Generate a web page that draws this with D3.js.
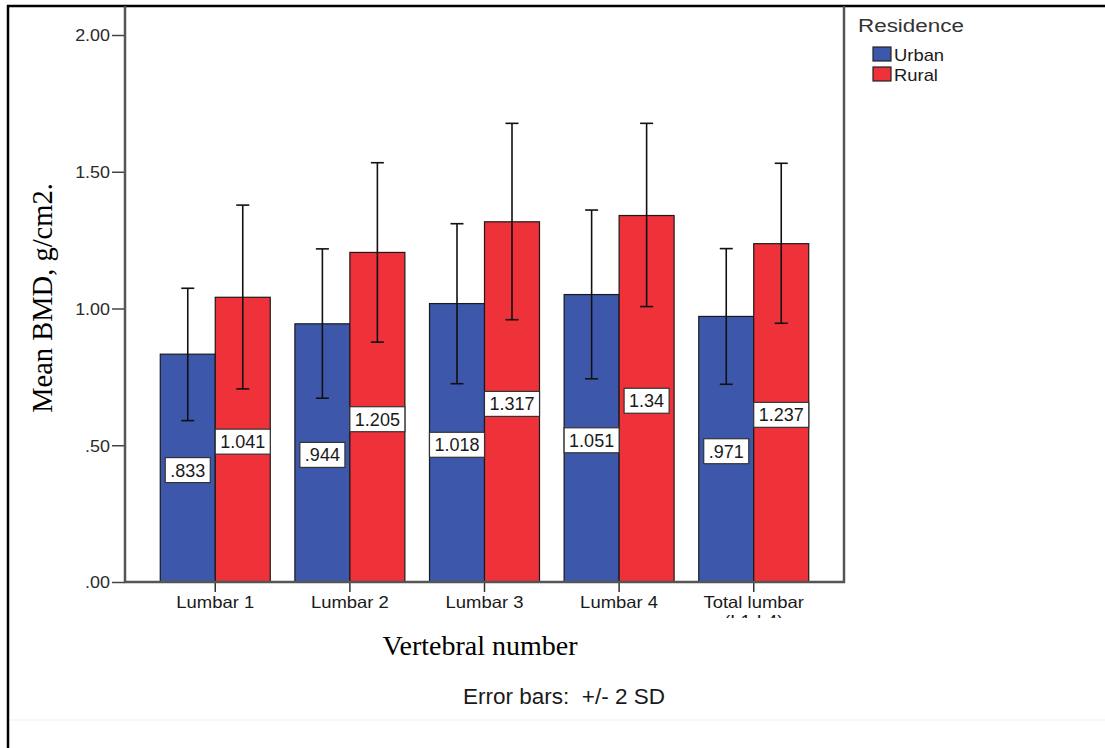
<!DOCTYPE html>
<html>
<head>
<meta charset="utf-8">
<script src="https://cdn.jsdelivr.net/npm/d3@7"></script>
<style>
  body { margin: 0; background: #fff; }
  text { font-family: "Liberation Sans", Arial, sans-serif; }
</style>
</head>
<body>
<div id="chart"></div>
<script>
// data
const categories = ["Lumbar 1", "Lumbar 2", "Lumbar 3", "Lumbar 4", "Total lumbar\n(L1-L4)"];
const groups = ["Urban", "Rural"];
const urbanMean = [0.833, 0.944, 1.018, 1.051, 0.971];
const ruralMean = [1.041, 1.205, 1.317, 1.34, 1.237];
// error bars (+/- 2 SD), lower and upper ends
const urbanLow = [0.590, 0.672, 0.725, 0.743, 0.723];
const urbanHigh = [1.074, 1.218, 1.310, 1.360, 1.219];
const ruralLow = [0.706, 0.877, 0.959, 1.007, 0.946];
const ruralHigh = [1.378, 1.533, 1.677, 1.677, 1.531];
const yTicks = [0, 0.5, 1, 1.5, 2];

const width = 1105;
const height = 748;
const plot = {left: 125, right: 844, top: 6, bottom: 582};

const colour = d3.scaleOrdinal().domain(groups).range(["#3d58ab", "#ef3139"]);

// SPSS style numbers: no leading zero
const spss = v => String(v).replace(/^0/, '');
const tickFmt = v => d3.format(".2f")(v).replace(/^0/, '');

const svg = d3.select('#chart')
    .append('svg')
    .attr('width', width)
    .attr('height', height);

// outer frame
svg.append('line').attr('x1', 8).attr('x2', 8).attr('y1', 5).attr('y2', height)
    .attr('stroke', '#000').attr('stroke-width', 2.5);
svg.append('line').attr('x1', 7).attr('x2', width).attr('y1', 6).attr('y2', 6)
    .attr('stroke', '#000').attr('stroke-width', 2.5);
svg.append('line').attr('x1', 10).attr('x2', width).attr('y1', 720).attr('y2', 720)
    .attr('stroke', '#f0f0f0').attr('stroke-width', 1);

const y = d3.scaleLinear().domain([0, 2]).range([plot.bottom, 35]);
const x0 = d3.scaleBand().domain(categories).range([plot.left, plot.right])
    .paddingInner(0.183).paddingOuter(0.262);
const x1 = d3.scaleBand().domain(groups).range([0, x0.bandwidth()]);

// rows for bars
const rows = [];
categories.forEach((c, i) => {
    rows.push({cat: c, group: "Urban", mean: urbanMean[i], low: urbanLow[i], high: urbanHigh[i]});
    rows.push({cat: c, group: "Rural", mean: ruralMean[i], low: ruralLow[i], high: ruralHigh[i]});
});

// y axis
const yAxis = svg.append('g')
    .attr('transform', `translate(${plot.left},0)`)
    .call(d3.axisLeft(y).tickValues(yTicks).tickFormat(tickFmt).tickSize(13));
yAxis.select('.domain').remove();
yAxis.selectAll('.tick line').attr('stroke', '#444').attr('stroke-width', 1.5);
yAxis.selectAll('.tick text')
    .attr('x', -15 / 1.12)
    .attr('dy', '0.36em')
    .attr('transform', 'scale(1.12,1)')
    .style('font-size', '16px')
    .attr('fill', '#2a2a2a');

// x axis, labels clipped like in the original
svg.append('clipPath').attr('id', 'xclip')
    .append('rect').attr('x', 0).attr('y', 0).attr('width', width).attr('height', 618);
const xAxis = svg.append('g').attr('clip-path', 'url(#xclip)')
    .append('g')
    .attr('transform', `translate(0,${plot.bottom})`)
    .call(d3.axisBottom(x0).tickSize(10));
xAxis.select('.domain').remove();
xAxis.selectAll('.tick line').attr('stroke', '#333').attr('stroke-width', 1.5);
xAxis.selectAll('.tick text').each(function(d) {
    const t = d3.select(this).text(null).attr('y', null).attr('dy', null)
        .attr('transform', 'scale(1.12,1)')
        .style('font-size', '16.5px')
        .attr('fill', '#1a1a1a');
    d.split('\n').forEach((line, i) => {
        t.append('tspan').attr('x', 0).attr('y', 26 + i * 19).text(line);
    });
});

// bars
svg.append('g').selectAll('rect')
    .data(rows)
    .enter()
    .append('rect')
    .attr('x', d => x0(d.cat) + x1(d.group))
    .attr('width', x1.bandwidth())
    .attr('y', d => y(d.mean))
    .attr('height', d => y(0) - y(d.mean))
    .attr('fill', d => colour(d.group))
    .attr('stroke', '#1a1a1a')
    .attr('stroke-width', 1.2);

// plot frame
svg.append('path')
    .attr('d', `M${plot.left},${plot.top}V${plot.bottom}H${plot.right}V${plot.top}`)
    .attr('fill', 'none')
    .attr('stroke', '#555')
    .attr('stroke-width', 2.5);

// error bars
const errs = svg.append('g').selectAll('g')
    .data(rows)
    .enter()
    .append('g')
    .attr('transform', d => `translate(${x0(d.cat) + x1(d.group) + x1.bandwidth() / 2},0)`)
    .attr('stroke', '#111')
    .attr('stroke-width', 1.6);
errs.append('line').attr('y1', d => y(d.low)).attr('y2', d => y(d.high));
errs.append('line').attr('x1', -6.5).attr('x2', 6.5).attr('y1', d => y(d.low)).attr('y2', d => y(d.low));
errs.append('line').attr('x1', -6.5).attr('x2', 6.5).attr('y1', d => y(d.high)).attr('y2', d => y(d.high));

// value labels in the middle of each bar
const labs = svg.append('g').selectAll('g')
    .data(rows)
    .enter()
    .append('g')
    .attr('transform', d => `translate(${x0(d.cat) + x1(d.group) + x1.bandwidth() / 2},${y(d.mean / 2) + 2})`);
labs.append('rect');
labs.append('text')
    .attr('text-anchor', 'middle')
    .attr('dy', '0.36em')
    .style('font-size', '18px')
    .attr('fill', '#1a1a1a')
    .text(d => spss(d.mean));
labs.each(function() {
    const g = d3.select(this);
    const w = g.select('text').node().getComputedTextLength() + 10;
    g.select('rect')
        .attr('x', -w / 2).attr('y', -12.5)
        .attr('width', w).attr('height', 25)
        .attr('fill', '#fff')
        .attr('stroke', '#333')
        .attr('stroke-width', 1.2);
});

// legend
svg.append('text')
    .attr('transform', 'translate(858,32) scale(1.18,1)')
    .style('font-size', '19px')
    .attr('fill', '#333')
    .text('Residence');
const legend = svg.append('g').selectAll('g')
    .data(groups)
    .enter()
    .append('g')
    .attr('transform', (d, i) => `translate(873,${47 + i * 20})`);
legend.append('rect')
    .attr('width', 18).attr('height', 14)
    .attr('fill', d => colour(d))
    .attr('stroke', '#222')
    .attr('stroke-width', 1.2);
legend.append('text')
    .attr('transform', 'translate(21,14) scale(1.15,1)')
    .style('font-size', '16px')
    .attr('fill', '#1a1a1a')
    .text(d => d);

// axis titles
svg.append('text')
    .attr('transform', 'translate(52,298) rotate(-90)')
    .attr('text-anchor', 'middle')
    .style('font-family', '"Liberation Serif", "Times New Roman", serif')
    .style('font-size', '28.5px')
    .attr('fill', '#000')
    .text('Mean BMD, g/cm2.');

svg.append('text')
    .attr('x', 480)
    .attr('y', 655)
    .attr('text-anchor', 'middle')
    .style('font-family', '"Liberation Serif", "Times New Roman", serif')
    .style('font-size', '28px')
    .attr('fill', '#000')
    .text('Vertebral number');

svg.append('text')
    .attr('x', 463)
    .attr('y', 704)
    .style('font-size', '22.5px')
    .style('white-space', 'pre')
    .attr('fill', '#1a1a1a')
    .text('Error bars:  +/- 2 SD');
</script>
</body>
</html>
